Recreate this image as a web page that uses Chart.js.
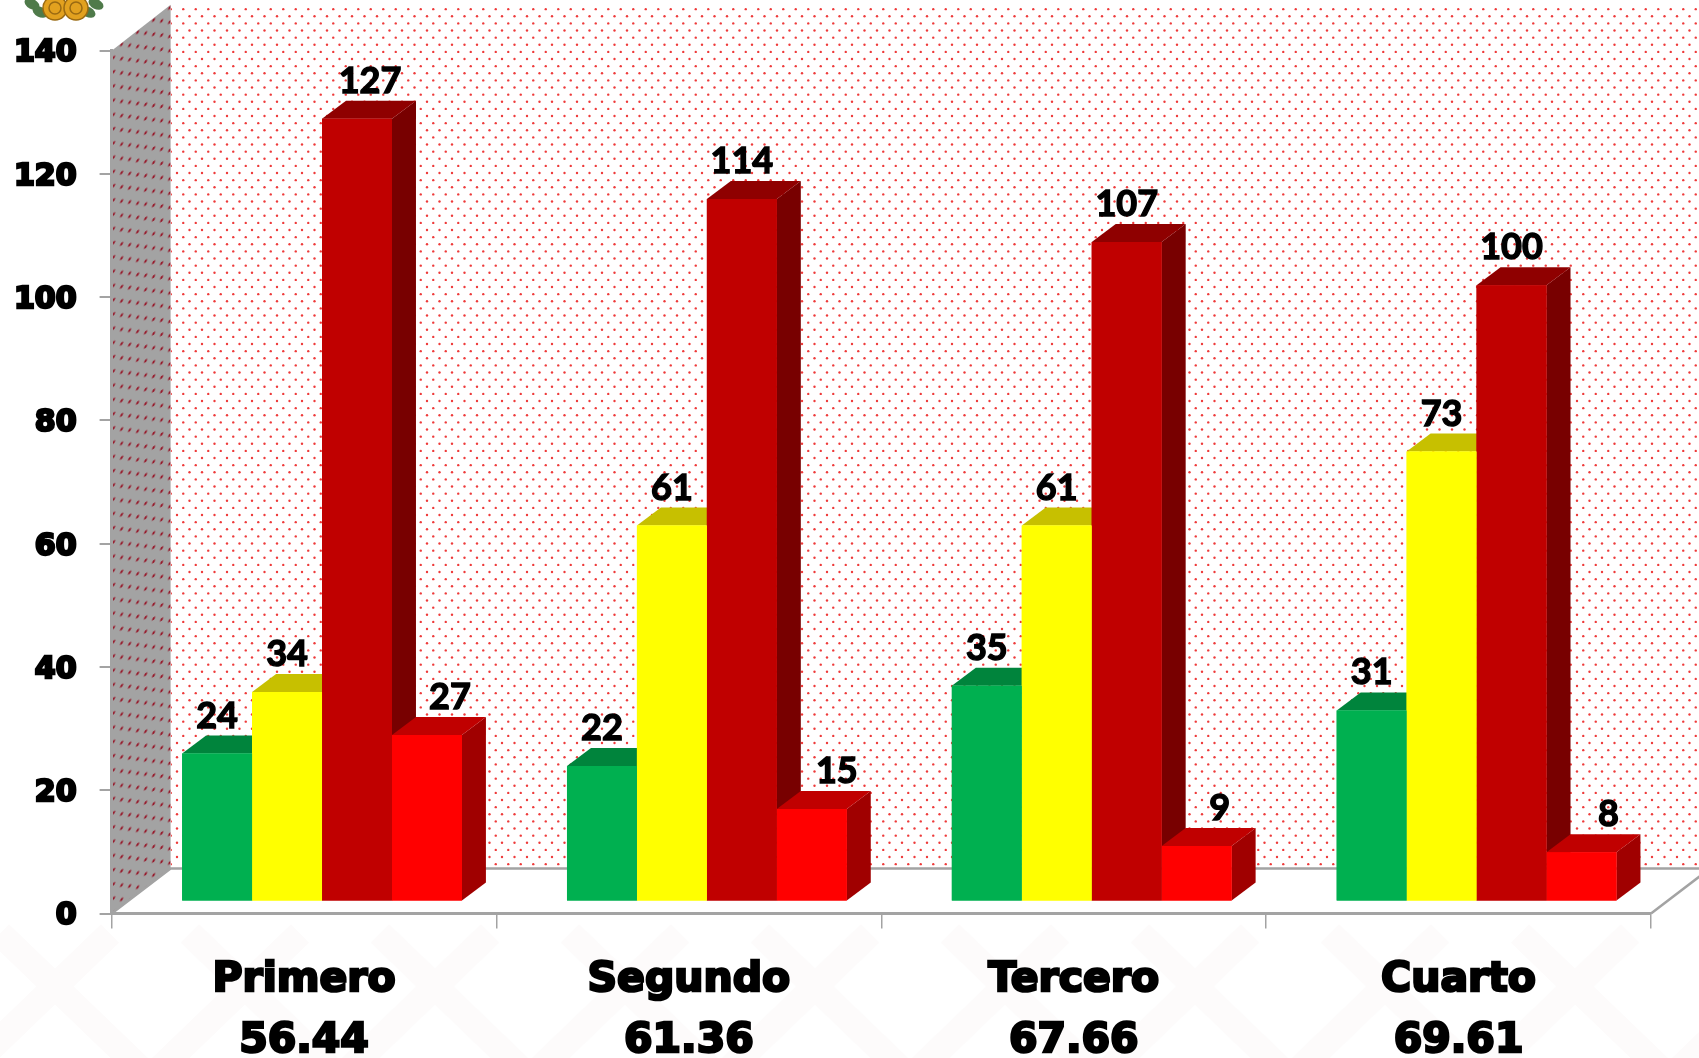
<!DOCTYPE html>
<html lang="es">
<head>
<meta charset="utf-8">
<title>Primero a Cuarto</title>
<script src="https://cdn.jsdelivr.net/npm/chart.js@4"></script>
<style>
    html, body { margin: 0; padding: 0; background: #fff; overflow: hidden; }
    canvas { display: block; }
</style>
</head>
<body>
<canvas id="grafica" width="1699" height="1058"></canvas>
<script>
// Datos
const periodos = ['Primero', 'Segundo', 'Tercero', 'Cuarto'];
const promedios = ['56.44', '61.36', '67.66', '69.61'];
const verde = [24, 22, 35, 31];
const amarillo = [34, 61, 61, 73];
const rojoOscuro = [127, 114, 107, 100];
const rojo = [27, 15, 9, 8];
const ticksY = [0, 20, 40, 60, 80, 100, 120, 140];

// Frente, tapa y lateral de cada barra
const colores = [
    { frente: '#00b050', tapa: '#00843c', lado: '#00703a' },
    { frente: '#ffff00', tapa: '#c7c000', lado: '#a8a200' },
    { frente: '#c00000', tapa: '#8f0000', lado: '#780000' },
    { frente: '#ff0000', tapa: '#c00000', lado: '#a00000' }
];
const series = [verde, amarillo, rojoOscuro, rojo];

// Corrimiento horizontal de cada etiqueta respecto a su barra
const corrimientos = [
    [0, 0, 0, 0],
    [0, 0, 0, 0],
    [13, 0, 0, 0],
    [23, 25, 23, 27]
];

const GRIS = '#a3a3a3';
const FONDO_X = 59, FONDO_Y = 45;   // profundidad de la pared
const BARRA_X = 18, BARRA_Y = 12;   // las barras van dentro del piso
const PROF_X = 24, PROF_Y = 18;     // profundidad de cada barra

function patronPuntos(ctx, fondo, punto, ancho, radio) {
    const c = document.createElement('canvas');
    c.width = ancho;
    c.height = 57;
    const p = c.getContext('2d');
    if (fondo) {
        p.fillStyle = fondo;
        p.fillRect(0, 0, c.width, c.height);
    }
    p.fillStyle = punto;
    // puntos al tresbolillo
    for (let r = 0; r < 8; r++) {
        for (let k = r % 2; k < 4; k += 2) {
            p.beginPath();
            p.arc(2 + k * ancho / 4, 2 + r * 7.125, radio, 0, Math.PI * 2);
            p.fill();
        }
    }
    return ctx.createPattern(c, 'repeat');
}

function poligono(ctx, pts, fill) {
    ctx.beginPath();
    pts.forEach((q, i) => i ? ctx.lineTo(q[0], q[1]) : ctx.moveTo(q[0], q[1]));
    ctx.closePath();
    ctx.fillStyle = fill;
    ctx.fill();
}

function dibujarLogo(ctx) {
    [[32, 4], [40, 12], [88, 12], [96, 4]].forEach(h => {
        ctx.fillStyle = '#4f7a4a';
        ctx.beginPath();
        ctx.ellipse(h[0], h[1], 8, 5, 0.5, 0, Math.PI * 2);
        ctx.fill();
    });
    [[55, 8], [76, 8]].forEach(r => {
        ctx.fillStyle = '#e2a11f';
        ctx.strokeStyle = '#9a6a12';
        ctx.lineWidth = 1.5;
        ctx.beginPath();
        ctx.arc(r[0], r[1], 12, 0, Math.PI * 2);
        ctx.fill();
        ctx.stroke();
        ctx.beginPath();
        ctx.arc(r[0], r[1], 6, 0, Math.PI * 2);
        ctx.stroke();
    });
}

// Pared, lateral y piso
const paredes = {
    id: 'paredes',
    beforeDraw(chart) {
        const { ctx, chartArea: a, width, height } = chart;
        const x0 = a.left, y0 = a.bottom, x1 = x0 + FONDO_X, yTop = a.top - FONDO_Y - 1, yBase = y0 - FONDO_Y;

        ctx.save();
        ctx.fillStyle = '#fff';
        ctx.fillRect(0, 0, width, height);

        // rombos tenues del fondo de la lamina
        ctx.strokeStyle = '#fdfbfb';
        ctx.lineWidth = 26;
        for (let i = -2; i < 10; i++) {
            ctx.beginPath();
            ctx.moveTo(i * 190, y0 + 20);
            ctx.lineTo(i * 190 + 150, height + 20);
            ctx.moveTo(i * 190 + 300, y0 + 20);
            ctx.lineTo(i * 190 + 150, height + 20);
            ctx.stroke();
        }

        dibujarLogo(ctx);

        poligono(ctx, [[x1, yTop], [width, yTop], [width, yBase], [x1, yBase]], patronPuntos(ctx, '#fff', '#ee3a3a', 25, 1.2));

        const lado = patronPuntos(ctx, GRIS, '#97182a', 32, 1.5);
        lado.setTransform(new DOMMatrix([1, -FONDO_Y / FONDO_X, 0, 1, x0, 0]));
        poligono(ctx, [[x0, a.top], [x1, yTop], [x1, yBase], [x0, y0]], lado);

        // piso
        poligono(ctx, [[x0, y0], [x1, yBase], [width, yBase], [width, y0]], '#fff');
        ctx.strokeStyle = GRIS;
        ctx.lineWidth = 2.5;
        ctx.beginPath();
        ctx.moveTo(x0, y0);
        ctx.lineTo(x1, yBase);
        ctx.lineTo(width, yBase);
        ctx.moveTo(a.right, y0);
        ctx.lineTo(a.right + FONDO_X, yBase);
        ctx.stroke();
        ctx.restore();
    },
    beforeDatasetsDraw(chart) {
        const ctx = chart.ctx;
        ctx.save();
        ctx.translate(BARRA_X, -BARRA_Y);
        // de izquierda a derecha, para que cada barra tape a la anterior
        periodos.forEach((_, j) => {
            series.forEach((_, i) => {
                const b = chart.getDatasetMeta(i).data[j];
                const c = colores[i];
                const l = b.x - b.width / 2, r = b.x + b.width / 2;
                poligono(ctx, [[r, b.y], [r + PROF_X, b.y - PROF_Y], [r + PROF_X, b.base - PROF_Y], [r, b.base]], c.lado);
                poligono(ctx, [[l, b.y], [l + PROF_X, b.y - PROF_Y], [r + PROF_X, b.y - PROF_Y], [r, b.y]], c.tapa);
                poligono(ctx, [[l, b.y], [r, b.y], [r, b.base], [l, b.base]], c.frente);
            });
        });
    },
    afterDatasetsDraw(chart) {
        const ctx = chart.ctx;
        ctx.restore();
        // etiquetas de valor
        ctx.save();
        ctx.font = 'bold 36px Lato';
        ctx.fillStyle = '#000';
        ctx.strokeStyle = '#000';
        ctx.lineWidth = 1.4;
        ctx.textAlign = 'center';
        ctx.textBaseline = 'alphabetic';
        series.forEach((serie, i) => {
            chart.getDatasetMeta(i).data.forEach((b, j) => {
                const x = b.x + BARRA_X + corrimientos[i][j];
                const y = b.y - BARRA_Y - 26;
                ctx.fillText(serie[j], x, y);
                ctx.strokeText(serie[j], x, y);
            });
        });
        ctx.restore();
    }
};

new Chart(document.getElementById('grafica'), {
    type: 'bar',
    plugins: [paredes],
    data: {
        labels: periodos.map((p, i) => [p, promedios[i]]),
        datasets: series.map((s, i) => ({
            data: s,
            backgroundColor: colores[i].frente,
            borderWidth: 0,
            clip: false,
            categoryPercentage: 0.727,
            barPercentage: 1
        }))
    },
    options: {
        responsive: false,
        animation: false,
        layout: { padding: { top: 50.7, left: 0, right: 48, bottom: 0 } },
        plugins: { legend: { display: false }, tooltip: { enabled: false } },
        scales: {
            x: {
                afterFit: s => { s.height = 144.5; },
                grid: { drawOnChartArea: false, drawTicks: true, tickLength: 15, color: GRIS, lineWidth: 1.5 },
                border: { color: GRIS, width: 3 },
                ticks: {
                    color: '#000',
                    padding: 21,
                    textStrokeColor: '#000',
                    textStrokeWidth: 2.5,
                    maxRotation: 0,
                    font: { family: '"DejaVu Sans"', weight: 'bold', size: 41, lineHeight: 1.49 }
                }
            },
            y: {
                min: 0,
                max: 140,
                afterFit: s => { s.width = 111.6; },
                afterBuildTicks: s => { s.ticks = ticksY.map(v => ({ value: v })); },
                grid: { drawOnChartArea: false, drawTicks: true, tickLength: 12, color: GRIS, lineWidth: 2 },
                border: { color: GRIS, width: 3 },
                ticks: {
                    color: '#000',
                    padding: 23,
                    labelOffset: 3,
                    textStrokeColor: '#000',
                    textStrokeWidth: 2.5,
                    font: { family: '"DejaVu Sans"', weight: 'bold', size: 30 }
                }
            }
        }
    }
});
</script>
</body>
</html>
